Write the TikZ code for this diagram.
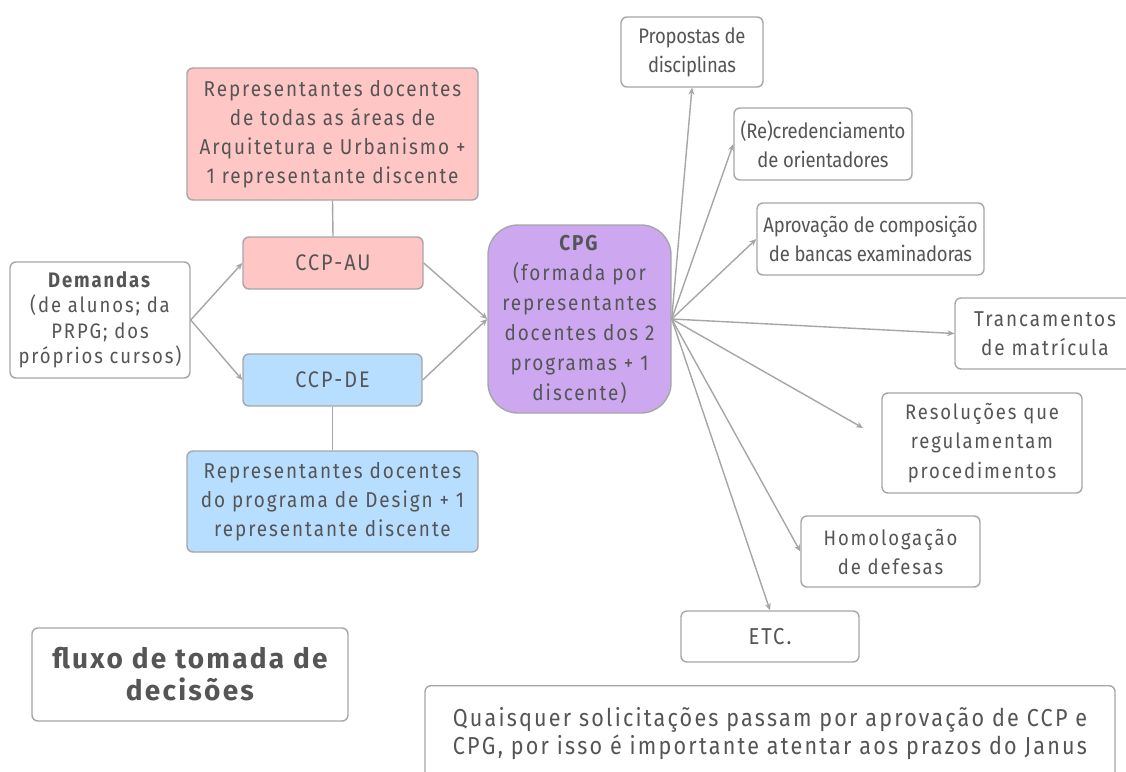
\documentclass[tikz,border=0pt]{standalone}
\usepackage{fontspec}
\setmainfont{Fira Sans}
\newfontfamily\ftight{Fira Sans}[FakeStretch=0.88, LetterSpace=-1]
\newfontfamily\fwide{Fira Sans}[FakeStretch=0.88, LetterSpace=9]
\newfontfamily\fbig{Fira Sans}[LetterSpace=8]
\usetikzlibrary{arrows.meta}
\definecolor{txt}{HTML}{555555}
\definecolor{edge}{HTML}{A6A6A6}
\definecolor{redf}{HTML}{FFC6C6}
\definecolor{bluef}{HTML}{B8DEFF}
\definecolor{purf}{HTML}{CDA8F0}
\newcommand{\fsz}[2]{\fontsize{#1}{#2}\selectfont}
\tikzset{
  box/.style={draw=edge, line width=1.4pt, rounded corners=6pt, fill=white, align=center,
    text=txt, font=\fwide\fsz{21}{29}, inner sep=0pt},
  tightbox/.style={box, font=\ftight\fsz{21}{29}},
  conn/.style={draw=edge, line width=1.4pt},
  arr/.style={conn, -{Stealth[length=7pt,width=6pt]}},
}
\begin{document}
\begin{tikzpicture}[x=1pt,y=-1pt]
\useasboundingbox (0,0) rectangle (1126,771);
\fill[white] (0,0) rectangle (1126,771);
% left side
\node[box, fill=redf, minimum width=291, minimum height=132, font=\fwide\fsz{21.5}{29}] (redtop) at (332.5,134)
  {Representantes docentes\\de todas as áreas de\\Arquitetura e Urbanismo +\\1 representante discente};
\node[box, fill=redf, minimum width=180, minimum height=52, font=\fwide\fsz{22.5}{29}] (ccpau) at (333,263) {CCP-AU};
\node[box, minimum width=180, minimum height=116, font=\fwide\fsz{21}{25.5}] (dem) at (100,320)
  {\textbf{Demandas}\\(de alunos; da\\PRPG; dos\\próprios cursos)};
\node[box, fill=bluef, minimum width=179, minimum height=52, font=\fwide\fsz{22.5}{29}] (ccpde) at (332.5,380) {CCP-DE};
\node[box, fill=bluef, minimum width=291, minimum height=101, font=\fwide\fsz{21.5}{29}] (bluebot) at (332.5,501.5)
  {Representantes docentes\\do programa de Design + 1\\representante discente};
\node[box, fill=purf, rounded corners=30pt, minimum width=183, minimum height=188, font=\fwide\fsz{21.5}{30}] (cpg) at (579.5,319)
  {\textbf{CPG}\\(formada por\\representantes\\docentes dos 2\\programas + 1\\discente)};
% right side
\node[tightbox, minimum width=142, minimum height=70] (prop) at (692,52) {Propostas de\\disciplinas};
\node[tightbox, minimum width=178, minimum height=72] (recr) at (823,144) {(Re)credenciamento\\de orientadores};
\node[tightbox, minimum width=227, minimum height=72] (aprov) at (870.5,239) {Aprovação de composição\\de bancas examinadoras};
\node[box, minimum width=180, minimum height=71, font=\fwide\fsz{21.5}{29}] (tranc) at (1045,333.5) {Trancamentos\\de matrícula};
\node[box, minimum width=200, minimum height=100, font=\fwide\fsz{21}{29.5}] (resol) at (982,443) {Resoluções que\\regulamentam\\procedimentos};
\node[box, minimum width=179, minimum height=71] (homol) at (890.5,551.5) {Homologação\\de defesas};
\node[box, minimum width=178, minimum height=51, font=\fwide\fsz{23}{29}] (etc) at (770,636.5) {ETC.};
\coordinate (resolend) at (863,428);
% bottom
\node[box, minimum width=316, minimum height=93, font=\fbig\fsz{28}{32}\bfseries] (fluxo) at (190,674.5)
  {fluxo de tomada de\\decisões};
\node[box, anchor=north, minimum width=690, inner ysep=22pt, font=\fwide\fsz{24.5}{28}] (quais) at (770,685)
  {Quaisquer solicitações passam por aprovação de CCP e\\CPG, por isso é importante atentar aos prazos do Janus\\[10pt]};
% connectors
\draw[conn] (redtop.south) -- (ccpau.north);
\draw[conn] (ccpde.south) -- (bluebot.north);
\draw[arr] (dem.east) -- (ccpau.west);
\draw[arr] (dem.east) -- (ccpde.west);
\draw[arr] (ccpau.east) -- (cpg.west);
\draw[arr] (ccpde.east) -- (cpg.west);
\draw[arr] (cpg.east) -- (prop.south);
\draw[arr] (cpg.east) -- (recr.west);
\draw[arr] (cpg.east) -- (aprov.west);
\draw[arr] (cpg.east) -- (tranc.west);
\draw[arr] (cpg.east) -- (resolend);
\draw[arr] (cpg.east) -- (homol.west);
\draw[arr] (cpg.east) -- (etc.north);
\end{tikzpicture}
\end{document}
